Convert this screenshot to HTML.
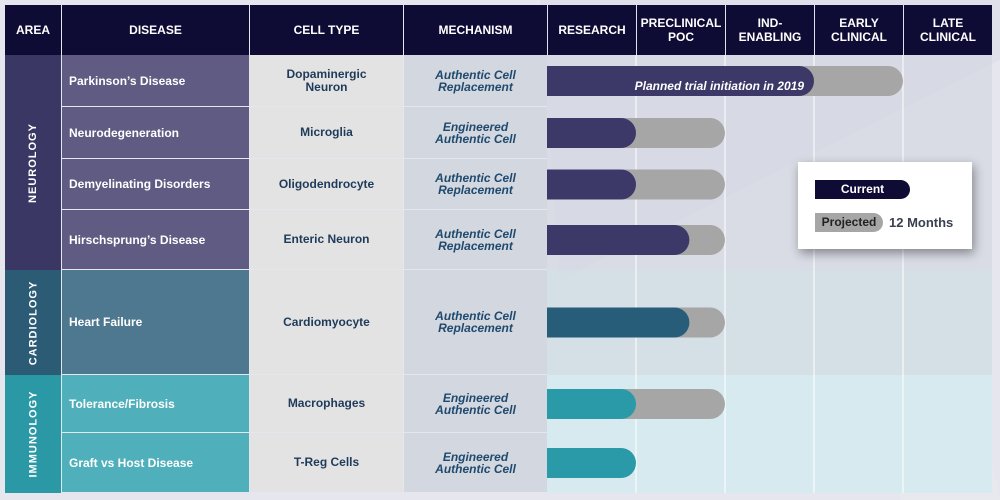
<!DOCTYPE html>
<html><head><meta charset="utf-8"><style>
body{margin:0;width:1000px;height:500px;overflow:hidden;background:#e6e6ee;font-family:"Liberation Sans",sans-serif;position:relative}
.a{position:absolute;box-sizing:border-box}
.h{background:#0e0b34;color:#fff;font-weight:bold;font-size:12px;display:flex;align-items:center;justify-content:center;text-align:center;line-height:14px}
.c{display:flex;align-items:center;font-weight:bold;font-size:12px}
.dis{color:#fff;padding-left:7px}
.cell{justify-content:center;text-align:center;color:#1f3b5a;background:#e3e3e4;line-height:13px}
.mech{justify-content:center;text-align:center;color:#1f4a6e;background:#d3d7df;font-style:italic;line-height:12px}
.area{color:#fff;font-weight:bold;font-size:11px;letter-spacing:1px;display:flex;align-items:center;justify-content:center}
.area span{transform:rotate(-90deg);white-space:nowrap}
</style></head><body>
<svg class="a" style="left:0;top:0" width="1000" height="500">
<polygon points="540,0 1000,0 1000,60 560,280" fill="#dfe0ea"/>
<polygon points="870,160 930,160 1000,500 900,500" fill="#e9e9f0" opacity="0.6"/>
</svg>
<div id="tbl"></div>
<svg id="chart" class="a" style="left:0;top:0" width="1000" height="500"></svg>
<div class="a" style="left:798px;top:162px;width:174px;height:87px;background:#fff;box-shadow:2px 4px 10px rgba(0,0,0,0.4)">
<div class="a" style="left:17px;top:18px;width:95px;height:19px;background:#0e0b34;border-radius:0 10px 10px 0;color:#fff;font-weight:bold;font-size:12px;text-align:center;line-height:19px">Current</div>
<div class="a" style="left:17px;top:51px;width:68px;height:19px;background:#a6a6a6;border-radius:0 10px 10px 0;color:#222;font-weight:bold;font-size:12px;text-align:center;line-height:19px">Projected</div>
<div class="a" style="left:91px;top:51px;font-weight:bold;font-size:13px;color:#3a4050;line-height:19px">12 Months</div>
</div>
<script>
const stages=["RESEARCH","PRECLINICAL<br>POC","IND-<br>ENABLING","EARLY<br>CLINICAL","LATE<br>CLINICAL"];
const diseases=["Parkinson’s Disease","Neurodegeneration","Demyelinating Disorders","Hirschsprung’s Disease","Heart Failure","Tolerance/Fibrosis","Graft vs Host Disease"];
const cells=["Dopaminergic<br>Neuron","Microglia","Oligodendrocyte","Enteric Neuron","Cardiomyocyte","Macrophages","T-Reg Cells"];
const mechs=["Authentic Cell<br>Replacement","Engineered<br>Authentic Cell","Authentic Cell<br>Replacement","Authentic Cell<br>Replacement","Authentic Cell<br>Replacement","Engineered<br>Authentic Cell","Engineered<br>Authentic Cell"];
const areaOf=[0,0,0,0,1,2,2];
const current=[3,1,1,1.6,1.6,1,1];
const projected=[4,2,2,2,2,2,1];
const areas=["NEUROLOGY","CARDIOLOGY","IMMUNOLOGY"];
const rowTop=[55,107,159,210,270,375,433,493];
const areaC=["#3b3764","#2b5b75","#2a99a5"],disC=["#5f5b83","#4e7890","#4fb0bb"],rowBg=["#d6d8e3","#d1dde4","#d4eaee"],barC=["#3c3868","#285d7a","#2a9aa8"];
const x0=547,sw=89;
const X=v=>x0+v*sw;
const t=document.getElementById('tbl');
function div(cls,st,html,name){const d=document.createElement('div');d.className='a '+cls;d.style.cssText=st;d.innerHTML=html;


t.appendChild(d);return d;}
const hdr=[["AREA",5,56],["DISEASE",62,187],["CELL TYPE",250,153],["MECHANISM",404,143]];
hdr.forEach(h=>div('h',`left:${h[1]}px;top:5px;width:${h[2]}px;height:50px`,h[0],'header-'+h[0].toLowerCase().replace(' ','-')));
stages.forEach((s,i)=>div('h',`left:${X(i)+1}px;top:5px;width:${sw-1}px;height:50px`,s,'header-stage-'+i));
[[0,4],[4,5],[5,7]].forEach((r,i)=>{div('area',`left:5px;top:${rowTop[r[0]]}px;width:56px;height:${rowTop[r[1]]-rowTop[r[0]]}px;background:${areaC[i]}`,`<span>${areas[i]}</span>`,'area-'+areas[i].toLowerCase());
div('',`left:${x0}px;top:${rowTop[r[0]]}px;width:${992-x0}px;height:${rowTop[r[1]]-rowTop[r[0]]}px;background:${rowBg[i]};opacity:0.85`,'','row-band-'+i);});
diseases.forEach((d,i)=>{const y=rowTop[i],h=rowTop[i+1]-y-1,a=areaOf[i];
div('c dis',`left:62px;top:${y}px;width:187px;height:${h}px;background:${disC[a]}`,d,'disease-'+i);
div('c cell',`left:250px;top:${y}px;width:153px;height:${h}px`,cells[i],'cell-type-'+i);
div('c mech',`left:404px;top:${y}px;width:143px;height:${h}px`,mechs[i],'mechanism-'+i);});
const svg=document.getElementById('chart'),NS="http://www.w3.org/2000/svg";
for(let i=1;i<5;i++){const l=document.createElementNS(NS,'line');l.setAttribute('x1',X(i));l.setAttribute('x2',X(i));l.setAttribute('y1',55);l.setAttribute('y2',493);l.setAttribute('stroke','#fff');l.setAttribute('stroke-width','1');


svg.appendChild(l);}
function bar(v,y,col,name){const r=15,w=X(v)-x0;const p=document.createElementNS(NS,'path');
p.setAttribute('d',`M${x0},${y} H${x0+w-r} A${r},${r} 0 0 1 ${x0+w-r},${y+30} H${x0} Z`);p.setAttribute('fill',col);


svg.appendChild(p);}
diseases.forEach((d,i)=>{const y=(rowTop[i]+rowTop[i+1])/2-15;
if(projected[i]>current[i])bar(projected[i],y,'#a6a6a6','bar-projected-'+i);
bar(current[i],y,barC[areaOf[i]],'bar-current-'+i);});
const tx=document.createElementNS(NS,'text');tx.setAttribute('x',X(current[0])-10);tx.setAttribute('y',90);tx.setAttribute('text-anchor','end');tx.setAttribute('fill','#fff');tx.setAttribute('font-size','12');tx.setAttribute('font-weight','bold');tx.setAttribute('font-style','italic');tx.setAttribute('font-family','Liberation Sans, sans-serif');tx.textContent='Planned trial initiation in 2019';


svg.appendChild(tx);
</script>
</body></html>
